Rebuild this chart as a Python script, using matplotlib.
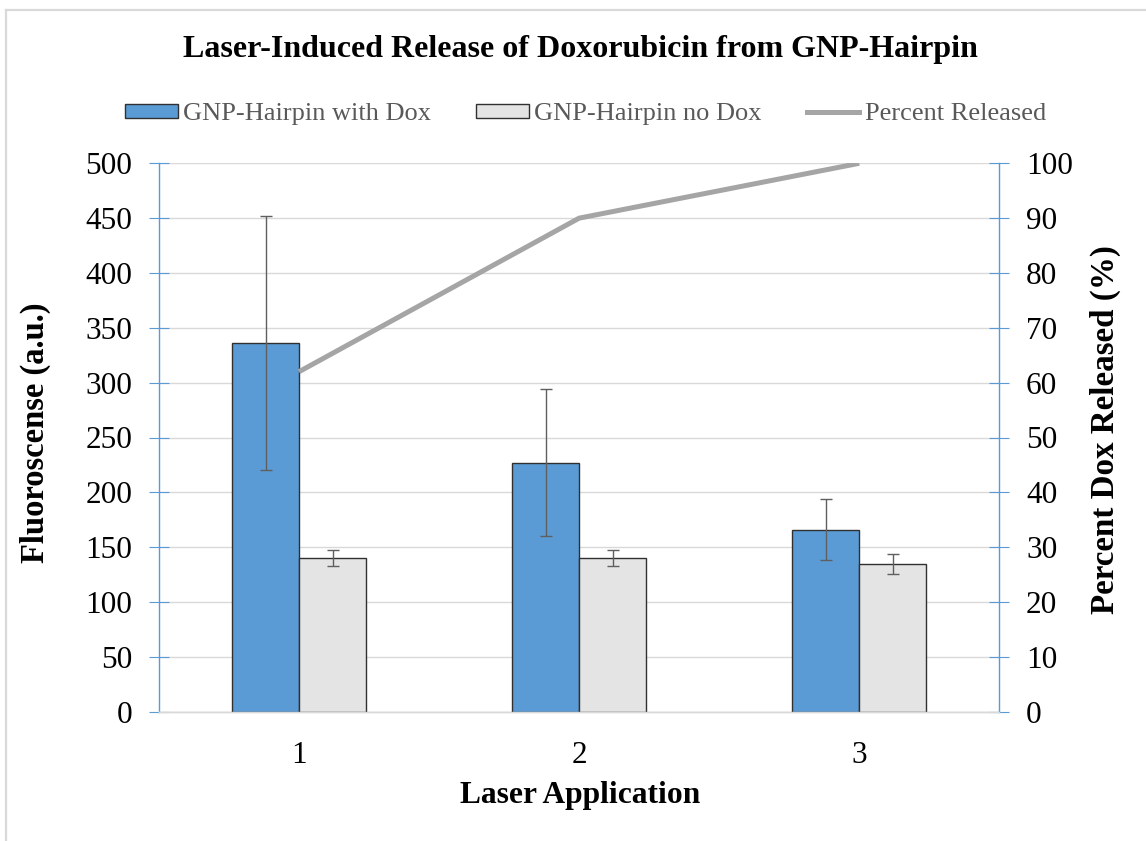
import matplotlib
matplotlib.use("Agg")
import matplotlib.pyplot as plt
import numpy as np
from matplotlib.lines import Line2D

plt.rcParams['font.family'] = ['Liberation Serif', 'DejaVu Serif']

categories = ["1", "2", "3"]
with_dox = [336, 227, 166]
with_dox_err = [116, 67, 28]
no_dox = [140, 140, 135]
no_dox_err = [7, 7, 9]
percent_released = [62, 90, 100]
series_names = ["GNP-Hairpin with Dox", "GNP-Hairpin no Dox", "Percent Released"]

W, H = 1146, 841
fig = plt.figure(figsize=(W / 100, H / 100), dpi=100)
ax = fig.add_axes([159 / W, 1 - 711.7 / H, (999.3 - 159) / W, (711.7 - 163.3) / H])
ax2 = ax.twinx()

blue = '#5B9BD5'
light = '#E4E4E4'
gridc = '#D9D9D9'
errc = '#5F5F5F'

x = np.arange(len(categories))
bw = 0.239
ax.bar(x - bw / 2, with_dox, bw, color=blue, edgecolor='#303030', linewidth=1.0, zorder=3)
ax.bar(x + bw / 2, no_dox, bw, color=light, edgecolor='#303030', linewidth=1.0, zorder=3)
ax.errorbar(x - bw / 2, with_dox, yerr=with_dox_err, fmt='none', ecolor=errc,
            elinewidth=1.0, capsize=4.5, capthick=1.0, zorder=4)
ax.errorbar(x + bw / 2, no_dox, yerr=no_dox_err, fmt='none', ecolor=errc,
            elinewidth=1.0, capsize=4.5, capthick=1.0, zorder=4)

ax2.plot(x, percent_released, color='#A5A5A5', linewidth=3.6, solid_capstyle='butt', zorder=5)

ax.set_xlim(-0.5, 2.5)
ax.set_ylim(0, 500)
ax.set_yticks(np.arange(0, 501, 50))
ax2.set_ylim(0, 100)
ax2.set_yticks(np.arange(0, 101, 10))
ax.set_xticks(x)
ax.set_xticklabels(categories)

ax.yaxis.grid(True, color=gridc, linewidth=1.0, zorder=0)
ax.set_axisbelow(True)

for a in (ax, ax2):
    a.spines['top'].set_visible(False)
    a.spines['bottom'].set_color(gridc)
    a.spines['bottom'].set_linewidth(1.0)
ax.spines['left'].set_color(blue)
ax.spines['left'].set_linewidth(1.0)
ax.spines['right'].set_visible(False)
ax2.spines['left'].set_visible(False)
ax2.spines['right'].set_color(blue)
ax2.spines['right'].set_linewidth(1.0)

fs = 22.5
ax.tick_params(axis='y', direction='inout', length=14.4, width=0.8, color=blue,
               labelsize=fs, pad=12, labelcolor='black')
ax2.tick_params(axis='y', direction='inout', length=14.4, width=0.8, color=blue,
                labelsize=fs, pad=12, labelcolor='black')
ax.tick_params(axis='x', length=0, labelsize=fs, pad=21)

fig.text(580 / W, 1 - 50 / H, "Laser-Induced Release of Doxorubicin from GNP-Hairpin",
         ha='center', va='center', fontsize=23, fontweight='bold')
fig.text(35 / W, 1 - 433 / H, "Fluoroscense (a.u.)", rotation=90, ha='center', va='center',
         fontsize=23.5, fontweight='bold')
fig.text(1105 / W, 1 - 430 / H, "Percent Dox Released (%)", rotation=90, ha='center', va='center',
         fontsize=23.8, fontweight='bold')
fig.text(580 / W, 1 - 795 / H, "Laser Application", ha='center', va='center',
         fontsize=22.7, fontweight='bold')

handles = [
    plt.Rectangle((0, 0), 1, 1, facecolor=blue, edgecolor='#303030', linewidth=1.0),
    plt.Rectangle((0, 0), 1, 1, facecolor=light, edgecolor='#303030', linewidth=1.0),
    Line2D([0], [0], color='#A5A5A5', linewidth=3.6),
]
leg = fig.legend(handles, series_names, loc='center', bbox_to_anchor=(585.5 / W, 1 - 114 / H),
                 ncol=3, frameon=False, fontsize=19, handlelength=2.0, handleheight=0.45,
                 handletextpad=0.2, columnspacing=1.7, labelcolor='#595959')

# chart border (top and left visible)
fig.add_artist(Line2D([6 / W, 1], [1 - 10 / H, 1 - 10 / H], color=gridc, linewidth=1.6,
                      transform=fig.transFigure))
fig.add_artist(Line2D([6 / W, 6 / W], [0, 1 - 10 / H], color=gridc, linewidth=1.6,
                      transform=fig.transFigure))

fig.savefig("out.png", dpi=100)
